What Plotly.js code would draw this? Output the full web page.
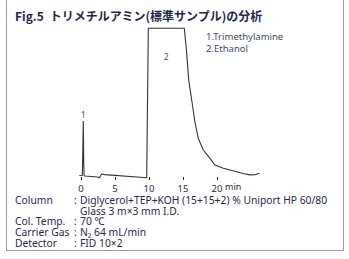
<!DOCTYPE html>
<html><head><meta charset="utf-8">
<script src="https://cdn.plot.ly/plotly-3.0.1.min.js"></script>
<style>
html,body{margin:0;padding:0;background:#fff;}
#wrap{position:relative;width:349px;height:259px;overflow:hidden;}
#chart{width:349px;height:259px;}
#frame{position:absolute;left:6px;top:0;width:336px;height:250px;border:1px solid #9c9c9c;border-top:none;pointer-events:none;}
</style></head><body>
<div id="wrap"><div id="chart"></div><div id="frame"></div></div>
<script>
// Chromatogram: retention time (min) and detector signal (arbitrary units; peak 2 saturates)
const timeMin = [-0.25, 0.20, 0.28, 0.34, 0.40, 0.47, 0.60, 2.06, 2.45, 2.70, 3.04, 3.50, 4.26, 5.70, 7.70, 9.40, 9.66,
  9.90, 15.19, 15.50, 15.84, 16.28, 16.76, 17.25, 17.99, 18.97, 19.71, 20.93, 22.65, 24.00, 24.85, 25.60, 26.22];
const signal = [0.0, 0.1, 20.0, 36.8, 8.0, -0.2, -0.3, -0.5, -1.0, -1.5, 1.0, 0.6, 0.3, -0.3, -1.2, -1.7, -1.5,
  99.5, 99.5, 85.0, 64.5, 51.0, 36.0, 25.0, 17.2, 11.6, 7.1, 4.9, 2.6, 1.2, 0.4, 0.5, 1.5];

const tickVals = [0, 5, 10, 15, 20];
const tickText = ['0', '5', '10', '15', '20'];
const timeUnit = 'min';

const peakNumbers = ['1', '2'];
const peakTimes = [0.34, 12.5];
const peakLabelLevels = [36.8, 80.7];

const compoundNames = ['1.Trimethylamine', '2.Ethanol'];
const titleText = 'Fig.5\u2002トリメチルアミン(標準サンプル)の分析';
const conditionLabels = ['Column', '', 'Col. Temp.', 'Carrier Gas', 'Detector'];
const conditionValues = ['Diglycerol+TEP+KOH (15+15+2) % Uniport HP 60/80', 'Glass 3 m×3 mm I.D.', '70 ℃', 'N₂ 64 mL/min', 'FID 10×2'];

// plot-area geometry (px)
const W = 349, H = 259;
const ML = 60, MR = 60, MT = 20, MB = 79;
const PW = W - ML - MR, PH = H - MT - MB;
const X0PX = 81, PXPERMIN = 6.8;
const xMin = -(X0PX - ML) / PXPERMIN, xMax = xMin + PW / PXPERMIN;
const BASEPX = 175.5, PXPERUNIT = 1.48;
const yMin = (BASEPX - (MT + PH)) / PXPERUNIT, yMax = (BASEPX - MT) / PXPERUNIT;
const px2x = px => (px - ML) / PW;
const py2y = py => (MT + PH - py) / PH;

const navy = '#1f2a47';
const soft = '#3e4b68';
const sans = '"Noto Sans", "Noto Sans CJK JP", sans-serif';

const trace = {
  x: timeMin, y: signal, type: 'scatter', mode: 'lines',
  line: {color: '#333333', width: 1.1, shape: 'linear'},
  hoverinfo: 'skip', showlegend: false
};

const ann = [];
// title
ann.push({xref: 'paper', yref: 'paper', x: px2x(13), y: py2y(15), xanchor: 'left', yanchor: 'middle',
  text: '<b>' + titleText + '</b>', showarrow: false,
  font: {family: '"Noto Sans CJK JP", "Noto Sans", sans-serif', size: 12, color: navy}});
// peak numbers
peakNumbers.forEach((n, i) => ann.push({x: peakTimes[i], y: peakLabelLevels[i], xref: 'x', yref: 'y',
  text: n, showarrow: false, xanchor: 'center', yanchor: i === 0 ? 'bottom' : 'middle', yshift: i === 0 ? -1 : 0,
  font: {family: sans, size: 8, color: soft}}));
// compound list
compoundNames.forEach((c, i) => ann.push({xref: 'paper', yref: 'paper', x: px2x(204), y: py2y(36 + i * 12),
  xanchor: 'left', yanchor: 'middle', text: c, showarrow: false,
  font: {family: sans, size: 9.5, color: soft}}));
// time unit next to last tick
ann.push({xref: 'x', yref: 'paper', x: (223 - X0PX) / PXPERMIN, y: py2y(186), xanchor: 'left', yanchor: 'middle',
  text: timeUnit, showarrow: false, font: {family: sans, size: 9, color: navy}});
// analytical conditions
const rowY = [200, 210.5, 221, 231.7, 243];
conditionLabels.forEach((lab, i) => {
  if (lab) {
    ann.push({xref: 'paper', yref: 'paper', x: px2x(13), y: py2y(rowY[i]), xanchor: 'left', yanchor: 'middle',
      text: lab, showarrow: false, font: {family: sans, size: 10.3, color: navy}});
    ann.push({xref: 'paper', yref: 'paper', x: px2x(72), y: py2y(rowY[i]), xanchor: 'left', yanchor: 'middle',
      text: ':', showarrow: false, font: {family: sans, size: 10.3, color: navy}});
  }
  ann.push({xref: 'paper', yref: 'paper', x: px2x(78), y: py2y(rowY[i]), xanchor: 'left', yanchor: 'middle',
    text: conditionValues[i], showarrow: false, font: {family: sans, size: 10.3, color: navy}});
});

const layout = {
  width: W, height: H,
  margin: {l: ML, r: MR, t: MT, b: MB, pad: 0},
  paper_bgcolor: '#ffffff', plot_bgcolor: 'rgba(0,0,0,0)',
  showlegend: false,
  xaxis: {range: [xMin, xMax], tickvals: tickVals, ticktext: tickText, ticks: 'inside', ticklen: 3,
    tickwidth: 1, tickcolor: '#222', showline: false, showgrid: false, zeroline: false, automargin: false,
    tickfont: {family: sans, size: 9.5, color: navy}, ticklabelstandoff: 1, fixedrange: true},
  yaxis: {range: [yMin, yMax], visible: false, showgrid: false, zeroline: false, fixedrange: true},
  annotations: ann
};

Plotly.newPlot('chart', [trace], layout, {staticPlot: true, displayModeBar: false});
</script>
</body></html>
